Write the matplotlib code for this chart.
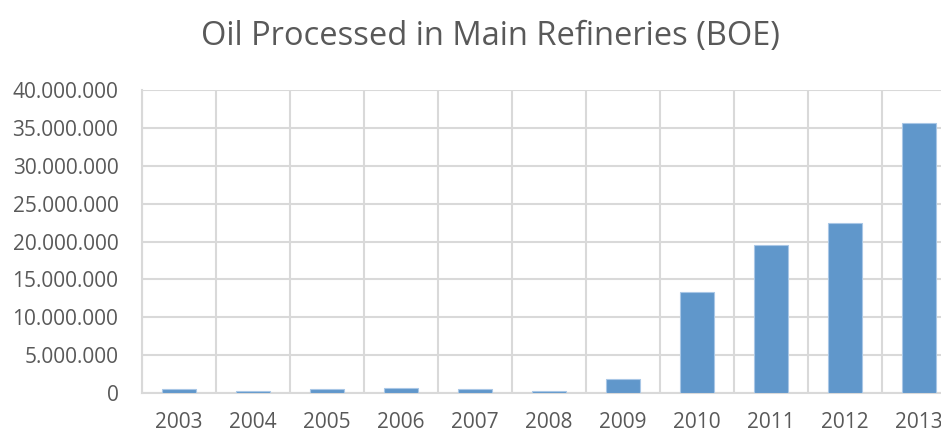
import matplotlib
matplotlib.use("Agg")
import matplotlib.pyplot as plt
from matplotlib.ticker import FuncFormatter, MultipleLocator

years = ["2003", "2004", "2005", "2006", "2007", "2008", "2009", "2010", "2011", "2012", "2013"]
boe = [550000, 320000, 480000, 680000, 580000, 300000, 1900000, 13300000, 19600000, 22500000, 35700000]

plt.rcParams['font.family'] = ['Open Sans', 'DejaVu Sans']

fig = plt.figure(figsize=(9.41, 4.34), dpi=100)
W, H = 941, 434
# plot area runs past the right edge like the original screenshot
ax = fig.add_axes([142 / W, (H - 393) / H, (11 * 74) / W, (393 - 90) / H])

x = range(len(years))
ax.bar(x, boe, width=0.45, color="#6097CB", edgecolor="#A9C7E6", linewidth=0.8, zorder=3)

ax.set_xlim(-0.5, len(years) - 0.5)
ax.set_ylim(0, 40000000)
ax.yaxis.set_major_locator(MultipleLocator(5000000))
ax.yaxis.set_major_formatter(FuncFormatter(lambda v, p: f"{int(v):,}".replace(",", ".")))
ax.set_xticks(list(x))
ax.set_xticklabels(years)
ax.set_xticks([i + 0.5 for i in range(-1, len(years))], minor=True)

ax.grid(axis="y", which="major", color="#D9D9D9", linewidth=1.5, zorder=0)
ax.grid(axis="x", which="minor", color="#D9D9D9", linewidth=1.5, zorder=0)
for s in ["top", "right"]:
    ax.spines[s].set_visible(False)
ax.spines["left"].set_color("#D9D9D9")
ax.spines["left"].set_linewidth(1.5)
ax.spines["bottom"].set_color("#D9D9D9")
ax.spines["bottom"].set_linewidth(1.5)
ax.tick_params(axis="both", which="both", length=0, labelsize=15, colors="#595959")
ax.tick_params(axis="x", pad=14)
ax.tick_params(axis="y", pad=17)

fig.text(490 / W, 1 - 36 / H, "Oil Processed in Main Refineries (BOE)", ha="center", va="center",
         fontsize=23.5, color="#595959")

fig.savefig("out.png", dpi=100)
